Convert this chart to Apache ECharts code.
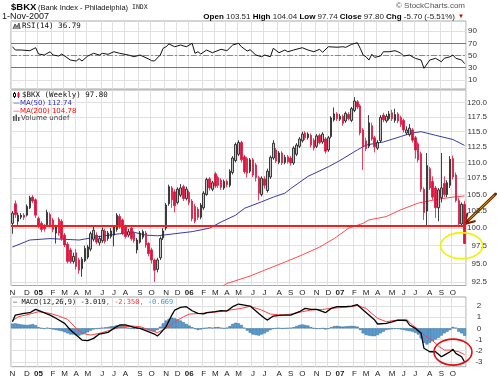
<!DOCTYPE html>
<html><head><meta charset="utf-8">
<script src="https://cdn.jsdelivr.net/npm/echarts@6/dist/echarts.min.js"></script>
<style>html,body{margin:0;padding:0;background:#fff}#c{width:499px;height:378px}</style>
</head><body><div id="c"></div>
<script>
// ---------------- DATA ----------------
const firstWeek = [2004, 10, 1];   // week of 1-Nov-2004 (month 0-based)
const weekCount = 157;
const monthLetters = ['J','F','M','A','M','J','J','A','S','O','N','D'];

// weekly candles [open, close, low, high]
const candles = [
 [100.7,102.2,99.2,102.5],[103.6,102.0,101.5,104.1],[101.0,101.9,100.5,102.3],[101.6,101.9,101.3,102.2],[101.9,101.6,101.2,102.2],
 [101.9,103.2,101.7,103.5],[103.0,104.5,102.8,104.8],[104.6,104.0,103.7,104.9],[104.2,101.9,101.5,104.4],[101.4,100.3,100.0,101.7],
 [100.7,99.8,99.4,101.0],[100.2,99.9,99.5,100.6],[100.5,102.3,100.2,102.7],[102.0,100.4,100.1,102.3],[101.2,99.8,99.4,101.5],
 [99.3,100.2,97.8,100.5],[101.3,99.3,98.9,101.6],[101.0,98.5,98.2,101.3],[99.0,97.6,97.3,99.3],[97.7,95.3,95.0,98.0],
 [96.9,95.3,95.0,97.2],[95.3,96.0,95.0,96.5],[96.5,94.6,94.2,97.0],[95.5,94.1,93.6,95.8],[94.3,95.6,93.2,95.9],
 [95.4,97.1,95.2,97.5],[95.9,97.3,95.6,97.6],[97.0,99.2,96.7,99.5],[98.4,99.7,98.1,100.3],[99.0,98.0,97.7,99.4],
 [97.9,98.5,97.5,98.9],[98.2,99.7,97.9,100.1],[99.6,98.1,97.8,99.9],[98.5,99.3,98.2,99.6],[98.8,99.6,98.5,100.0],
 [99.0,100.2,97.4,100.4],[99.8,101.9,99.5,102.2],[101.7,100.2,99.9,102.1],[101.2,99.3,99.0,101.4],[100.2,98.8,98.5,100.5],
 [99.0,99.5,98.7,99.9],[100.0,98.5,98.2,100.4],[99.3,98.2,97.9,99.6],[96.9,98.3,96.4,98.6],[98.0,99.3,97.8,99.6],
 [98.7,99.5,98.4,99.8],[99.3,97.6,97.2,99.6],[97.8,96.4,96.0,98.0],[96.9,95.5,95.0,97.2],[95.5,94.1,92.5,95.7],
 [94.2,95.5,93.8,95.8],[95.8,98.5,95.5,98.8],[98.6,99.6,98.3,100.0],[100.0,103.4,99.7,103.7],[103.6,106.2,103.3,106.5],
 [106.0,104.2,103.0,106.3],[105.4,103.3,102.3,105.8],[103.8,105.8,103.5,106.1],[104.9,106.0,104.6,106.6],[106.2,104.4,104.0,106.5],
 [104.4,105.8,104.1,106.2],[105.3,103.8,103.4,105.6],[104.0,101.4,101.0,104.3],[103.2,101.0,100.7,103.6],[102.8,101.6,101.2,103.1],
 [101.6,103.4,101.3,103.7],[103.0,105.2,102.7,105.5],[105.0,107.3,104.8,107.6],[107.4,106.0,105.6,107.7],[105.8,106.8,105.5,107.1],
 [108.2,106.3,106.0,108.5],[107.6,106.4,106.0,107.9],[107.2,106.1,105.7,107.5],[106.0,107.0,105.7,107.3],[107.0,106.5,106.1,107.3],
 [106.4,108.6,106.1,108.9],[108.4,110.7,108.1,111.0],[110.3,112.9,110.0,113.2],[111.3,113.2,111.0,113.6],[113.2,110.4,110.0,113.5],
 [110.9,108.5,108.2,111.2],[110.6,108.3,107.6,110.9],[108.6,110.4,108.3,110.7],[110.4,108.0,107.7,110.7],[109.6,107.6,107.0,109.9],
 [107.6,105.2,104.1,107.9],[105.0,107.5,104.7,107.8],[107.4,106.4,105.9,107.8],[105.6,108.6,105.3,109.0],[107.7,110.8,107.4,111.1],
 [110.7,113.1,110.4,113.6],[112.0,110.2,109.9,112.3],[110.0,111.5,109.7,111.8],[111.5,109.9,109.6,111.8],[110.0,110.8,109.7,111.2],
 [110.9,110.1,109.8,111.2],[110.7,109.9,109.5,111.0],[109.9,112.3,109.6,112.6],[111.3,112.8,111.0,113.1],[112.6,113.8,112.3,114.1],
 [113.5,114.6,113.2,115.0],[114.8,114.0,113.6,115.1],[114.0,114.6,113.7,114.9],[114.4,112.8,112.4,114.7],[113.6,112.3,111.9,113.9],
 [112.6,114.3,112.3,114.6],[114.4,113.2,112.9,114.7],[113.3,114.6,113.0,114.9],[113.8,111.8,111.4,114.1],[112.0,114.0,111.7,114.3],
 [114.2,117.3,113.9,117.6],[117.0,118.0,116.7,119.1],[118.0,117.2,116.8,118.3],[117.1,117.6,116.8,118.0],[117.6,116.4,116.0,117.9],
 [116.8,118.1,116.5,118.4],[117.9,117.2,116.9,118.3],[116.9,118.9,116.6,119.2],[118.6,120.2,118.3,120.9],[120.1,119.2,118.8,120.4],
 [119.4,114.8,114.4,119.7],[115.3,112.5,108.8,115.6],[113.5,112.2,111.8,114.0],[112.6,116.5,112.3,117.8],[116.0,113.8,113.5,116.5],
 [114.0,112.5,111.6,114.3],[112.3,113.2,112.0,113.6],[113.5,117.4,113.2,117.8],[117.8,117.0,116.6,118.2],[116.8,117.6,116.5,118.0],
 [117.2,118.0,116.9,118.5],[118.2,117.2,116.8,118.7],[116.9,117.9,116.5,118.9],[118.0,116.8,116.4,118.3],[117.4,116.2,115.8,117.7],
 [116.9,115.3,114.9,117.2],[114.8,115.3,114.5,115.9],[114.5,115.6,114.2,116.3],[115.3,113.6,113.2,115.6],[114.0,112.0,110.6,114.3],
 [113.0,110.4,110.0,113.3],[111.4,105.8,105.4,111.7],[105.8,102.3,101.2,106.1],[102.5,109.5,100.2,111.5],[109.0,106.0,105.7,109.3],
 [107.0,104.6,104.2,107.8],[106.0,103.0,101.5,106.3],[103.0,105.7,101.0,106.0],[104.5,106.0,103.8,111.5],[106.7,105.0,104.6,107.8],
 [105.0,106.8,104.6,107.2],[106.4,110.5,106.0,111.0],[110.6,107.7,107.3,111.1],[108.0,104.1,103.8,108.4],[104.1,100.6,100.2,104.5],
 [100.6,103.5,100.2,103.8],[103.51,97.80,97.74,104.04]
];

const ma50Weeks  = [0,6,13,23,30,37,42,46,50,56,62,68,72,77,80,86,90,94,96,102,109,113,119,122,128,134,138,141,146,152,156];
const ma50Values = [97.3,98.3,98.5,98.3,98.8,99.2,99.4,99.0,98.9,99.2,99.5,100.0,100.9,101.9,102.9,103.9,104.6,105.2,105.9,107.8,109.3,110.3,112.0,112.8,113.3,114.2,114.8,115.0,114.4,113.7,112.74];

const ma200Weeks  = [72,74,82,87,94,100,106,111,116,121,123,129,134,140,147,152,156];
const ma200Values = [91.8,92.3,93.3,94.1,95.2,96.2,97.3,98.5,100.0,100.7,101.2,101.7,102.7,103.7,104.3,104.6,104.78];

const supportLevel = 100.3;

const rsiWeeks  = [0,1,3,6,8,9,11,13,14,16,17,20,22,23,24,26,28,30,31,33,35,37,40,42,44,47,48,49,51,52,53,54,56,58,60,62,63,64,65,67,69,72,74,76,78,79,81,82,84,86,87,89,90,92,94,95,97,100,102,104,106,107,109,112,114,115,117,119,120,121,122,123,124,125,127,128,130,132,133,134,135,137,139,141,142,144,146,148,149,151,152,153,155,156];
const rsiValues = [64.4,59,59,57.9,62.8,52.5,50.8,56.2,50.8,49.2,52.5,42.6,41,44.8,41,49.2,53.6,50.8,53.6,52,56.2,53.6,50.8,48,50.8,44.3,41.5,41,50.8,61.8,64.4,68.9,64.4,67.2,64.4,70,53.6,56.2,52.5,59,54.6,60.2,57.9,67.2,70,64.4,57.4,59.5,50.8,48,50.8,48,61.8,54.6,59,56.2,59,62.8,59,56.2,60.2,55.2,64.4,63.6,64.4,63.4,68.3,71,61.8,50.8,48,42.6,52,47,49.2,56.2,56.2,57.9,56.2,53.6,49.2,50.8,45.4,42.6,29,42.6,45.4,39.8,45.4,48,50.8,45.4,42.6,36.79];

const macdWeeks  = [0,1,4,6,8,10,13,15,18,20,22,24,26,28,30,33,35,37,39,42,44,46,49,50,51,53,55,56,58,60,62,64,66,67,70,72,74,76,78,80,82,85,87,88,90,93,96,99,101,103,105,108,110,112,115,117,119,121,123,125,126,129,131,133,136,137,139,141,142,144,146,148,149,151,152,153,155,156];
const macdValues = [0.59,1.19,1.34,1.40,1.70,1.49,1.19,0.90,0.45,-0.15,-0.60,-1.05,-1.11,-0.90,-0.51,-0.36,0.0,0.30,0.30,0.09,0.0,-0.21,-0.51,-0.69,-0.45,0.15,1.19,1.64,1.88,1.94,1.58,1.34,1.30,1.40,1.49,1.58,1.55,1.94,2.18,2.09,2.0,1.34,0.90,0.74,1.10,1.19,1.19,1.49,1.79,1.70,1.70,1.40,1.79,1.94,1.94,2.00,2.12,1.64,1.19,0.74,0.39,0.45,0.59,0.74,0.69,0.30,0.0,-0.45,-1.79,-2.10,-2.10,-2.55,-2.40,-2.10,-1.88,-2.25,-2.55,-3.019];

const signalWeeks  = [0,2,6,9,13,16,19,22,24,27,30,34,37,41,44,48,50,53,56,59,61,65,68,72,75,79,82,86,89,93,96,100,103,107,110,114,117,119,122,124,126,129,131,133,136,138,140,142,145,147,149,151,154,156];
const signalValues = [0.68,1.04,1.28,1.49,1.34,1.10,0.81,0.0,-0.45,-0.60,-0.45,-0.15,0.09,0.21,0.15,-0.21,-0.39,0.0,0.59,1.04,1.28,1.34,1.40,1.52,1.64,1.79,1.97,1.64,1.28,1.19,1.28,1.49,1.64,1.70,1.79,1.88,1.94,2.06,1.79,1.34,0.90,0.59,0.68,0.74,0.81,0.30,-0.09,-0.60,-1.11,-1.59,-1.95,-1.95,-2.10,-2.35];

const histValues = [
 0.42,0.45,0.40,0.35,0.32,0.30,0.33,0.38,0.28,0.10,
 0.02,-0.05,0.05,-0.02,-0.10,-0.15,-0.20,-0.25,-0.35,-0.45,
 -0.55,-0.55,-0.62,-0.65,-0.55,-0.45,-0.35,-0.20,-0.10,-0.05,
 0.00,0.05,0.08,0.12,0.18,0.20,0.28,0.25,0.18,0.10,
 0.05,0.00,-0.05,-0.05,0.00,-0.03,-0.10,-0.18,-0.25,-0.30,
 -0.15,0.15,0.45,0.70,0.85,0.95,0.90,0.80,0.70,0.55,
 0.40,0.25,0.10,-0.05,-0.15,-0.10,0.00,0.05,0.10,0.05,
 0.10,0.12,0.05,0.00,0.05,0.20,0.40,0.50,0.45,0.30,
 0.05,-0.20,-0.40,-0.55,-0.60,-0.65,-0.55,-0.45,-0.30,-0.15,
 -0.05,0.00,0.02,-0.02,0.00,0.02,0.05,0.10,0.20,0.30,
 0.35,0.30,0.25,0.10,0.00,-0.05,-0.05,0.00,-0.10,-0.05,
 0.10,0.20,0.22,0.18,0.15,0.18,0.20,0.22,0.20,0.15,
 -0.15,-0.45,-0.60,-0.65,-0.70,-0.70,-0.60,-0.45,-0.30,-0.15,
 -0.10,-0.08,-0.05,-0.05,-0.10,-0.15,-0.20,-0.25,-0.30,-0.40,
 -0.55,-0.90,-1.30,-1.45,-1.30,-1.15,-1.00,-0.85,-0.65,-0.45,
 -0.30,-0.15,0.12,0.05,-0.30,-0.45,-0.669
];

const rsiTicks = [10,30,50,70,90];
const priceTicks = [92.5,95,97.5,100,102.5,105,107.5,110,112.5,115,117.5,120];
const macdTicks = [-3,-2,-1,0,1,2];

// annotation anchors (week index, value)
const yellowMark = [154.5, 97.5];
const redMark = [151.8, -2.13];
const arrowTip = [155.6, 100.6];

// ---------------- BUILD ----------------
const categories = [];
for (let k = 0; k < weekCount; k++) {
  const d = new Date(Date.UTC(firstWeek[0], firstWeek[1], firstWeek[2] + 7 * k));
  categories.push(d.toISOString().slice(0, 10));
}
const monthStart = categories.map((c, k) => k === 0 || c.slice(5, 7) !== categories[k - 1].slice(5, 7));
const pairs = (w, v) => w.map((x, k) => [x, v[k]]);

const GRID_L = 11, GRID_R = 33;
const grids = [
  {left: GRID_L, right: GRID_R, top: 21, height: 68},
  {left: GRID_L, right: GRID_R, top: 90, height: 195.5},
  {left: GRID_L, right: GRID_R, top: 297, height: 69.7}
].map(g => Object.assign(g, {show: true, borderColor: '#a8a8a8', borderWidth: 1, backgroundColor: '#fff'}));

function xAxis(gi, showLabels, margin) {
  return {
    type: 'category', gridIndex: gi, data: categories, boundaryGap: true,
    axisLine: {show: false}, axisTick: {show: false},
    axisLabel: {
      show: showLabels, interval: (i) => monthStart[i], margin: margin,
      fontSize: 8, fontFamily: 'Liberation Sans', color: '#222', hideOverlap: false,
      formatter: (v) => {
        const m = +v.slice(5, 7);
        return m === 1 ? '{y|' + v.slice(2, 4) + '}' : monthLetters[m - 1];
      },
      rich: {y: {fontWeight: 'bold', fontSize: 8, fontFamily: 'Liberation Sans', color: '#222'}}
    },
    splitLine: {show: true, interval: (i) => monthStart[i], lineStyle: {color: '#e0e0e0', width: 1}}
  };
}
const lblStyle = {fontSize: 8, fontFamily: 'Liberation Sans', color: '#333'};

const option = {
  animation: false,
  backgroundColor: '#fff',
  grid: grids,
  xAxis: [xAxis(0, false, 2), xAxis(1, true, 3), xAxis(2, true, 3)],
  yAxis: [
    {type: 'value', gridIndex: 0, position: 'right', min: -4.9, max: 106.6,
     axisLine: {show: false}, axisTick: {show: false, customValues: rsiTicks},
     axisLabel: Object.assign({customValues: rsiTicks, margin: 2, align: 'left'}, lblStyle),
     splitLine: {show: true, lineStyle: {color: '#e0e0e0'}}},
    {type: 'log', logBase: 10, gridIndex: 1, position: 'right', min: 92.03, max: 122.16,
     axisLine: {show: false}, axisTick: {show: false, customValues: priceTicks},
     axisLabel: Object.assign({customValues: priceTicks, margin: 21, align: 'right', formatter: v => (+v).toFixed(1)}, lblStyle),
     splitLine: {show: true, lineStyle: {color: '#e0e0e0'}}},
    {type: 'value', gridIndex: 2, position: 'right', min: -3.44, max: 2.81,
     axisLine: {show: false}, axisTick: {show: false, customValues: macdTicks},
     axisLabel: Object.assign({customValues: macdTicks, margin: 13, align: 'center'}, lblStyle),
     splitLine: {show: true, lineStyle: {color: '#e0e0e0'}}}
  ],
  series: [
    {type: 'line', name: 'RSI', xAxisIndex: 0, yAxisIndex: 0, data: pairs(rsiWeeks, rsiValues),
     symbol: 'none', lineStyle: {color: '#111', width: 1}, z: 5,
     markLine: {silent: true, symbol: 'none', label: {show: false}, animation: false,
       data: [
         {yAxis: 70, lineStyle: {color: '#777', width: 1, type: 'solid'}},
         {yAxis: 30, lineStyle: {color: '#777', width: 1, type: 'solid'}},
         {yAxis: 50, lineStyle: {color: '#888', width: 1, type: [6, 2, 2, 2]}}
       ]}},
    {type: 'candlestick', name: '$BKX', xAxisIndex: 1, yAxisIndex: 1, data: candles, barWidth: 2,
     itemStyle: {color: '#c4c4c4', color0: '#dc143c', borderColor: '#111', borderColor0: '#dc143c', borderWidth: 0.8},
     z: 4,
     markLine: {silent: true, symbol: 'none', label: {show: false}, animation: false,
       data: [{yAxis: supportLevel, lineStyle: {color: '#ff1a1a', width: 2, type: 'solid'}}]}},
    {type: 'line', name: 'MA(50)', xAxisIndex: 1, yAxisIndex: 1, data: pairs(ma50Weeks, ma50Values),
     symbol: 'none', lineStyle: {color: '#3a3aa6', width: 1}, z: 3},
    {type: 'line', name: 'MA(200)', xAxisIndex: 1, yAxisIndex: 1, data: pairs(ma200Weeks, ma200Values),
     symbol: 'none', lineStyle: {color: '#ff4d4d', width: 1}, z: 3},
    {type: 'bar', name: 'Hist', xAxisIndex: 2, yAxisIndex: 2, data: histValues, barCategoryGap: '0%',
     itemStyle: {color: '#5a9fd4', borderColor: '#2c6a9e', borderWidth: 0.5}, z: 2},
    {type: 'line', name: 'Signal', xAxisIndex: 2, yAxisIndex: 2, data: pairs(signalWeeks, signalValues),
     symbol: 'none', lineStyle: {color: '#ff4040', width: 1}, z: 4},
    {type: 'line', name: 'MACD', xAxisIndex: 2, yAxisIndex: 2, data: pairs(macdWeeks, macdValues),
     symbol: 'none', lineStyle: {color: '#000', width: 1.3}, z: 5}
  ]
};

const chart = echarts.init(document.getElementById('c'));
chart.setOption(option);

// ---------------- TEXT + ANNOTATIONS ----------------
const sans = '"Liberation Sans", Arial, sans-serif';
const mono = '"DejaVu Sans Mono", monospace';
const dv = '"DejaVu Sans", sans-serif';
function txt(x, y, text, font, fill, align, rich) {
  const st = {text: text, font: font, fill: fill || '#000', align: align || 'left', verticalAlign: 'middle'};
  if (rich) st.rich = rich;
  return {type: 'text', x: x, y: y, silent: true, z: 100, style: st};
}
const px = (gi, pt) => chart.convertToPixel({xAxisIndex: gi, yAxisIndex: gi}, pt);

const yC = px(1, yellowMark);
const rC = px(2, redMark);
const aT = px(1, arrowTip);

const g = [
  txt(11, 7, '$BKX', 'bold 9.5px ' + sans, '#000'),
  txt(38, 7.5, '(Bank Index - Philadelphia)', '7.5px ' + sans, '#111'),
  txt(132, 7.5, 'INDX', '6.5px ' + mono, '#222'),
  txt(2, 16.5, '1-Nov-2007', '9px ' + sans, '#111'),
  txt(465, 6, '\u00a9 StockCharts.com', '8px ' + sans, '#555', 'right'),
  txt(455, 16.5, '{b|Open} {n|103.51} {b|High} {n|104.04} {b|Low} {n|97.74} {b|Close} {n|97.80} {b|Chg} {n|-5.70 (-5.51%)}',
      '8px ' + sans, '#000', 'right',
      {b: {font: 'bold 8px ' + sans, fill: '#000'}, n: {font: '8px ' + sans, fill: '#222'}}),
  txt(458, 16.5, '\u25bc', '6px ' + sans, '#cc0000'),
  // RSI legend
  {type: 'polyline', silent: true, z: 100, shape: {points: [[13, 29], [15, 24], [17, 27], [19, 23], [20, 29]]}, style: {stroke: '#555', fill: '#999', lineWidth: 1}},
  txt(22, 26, 'RSI(14) 36.79', '7.5px ' + mono, '#111'),
  // price legend
  {type: 'group', silent: true, z: 100, children: [
    {type: 'line', shape: {x1: 14.5, y1: 92, x2: 14.5, y2: 98}, style: {stroke: '#000', lineWidth: 1}},
    {type: 'rect', shape: {x: 13.5, y: 93.5, width: 2, height: 3}, style: {fill: '#fff', stroke: '#000', lineWidth: 1}},
    {type: 'line', shape: {x1: 18.5, y1: 92, x2: 18.5, y2: 98}, style: {stroke: '#dc143c', lineWidth: 1}},
    {type: 'rect', shape: {x: 17.5, y: 93, width: 2, height: 4}, style: {fill: '#dc143c'}}
  ]},
  txt(22, 95, '$BKX (Weekly) 97.80', '7.5px ' + mono, '#111'),
  txt(13, 103.3, '\u2014MA(50) 112.74', '7px ' + dv, '#2b2bc4'),
  txt(13, 110.7, '\u2014MA(200) 104.78', '7px ' + dv, '#ff0000'),
  {type: 'group', silent: true, z: 100, children: [
    {type: 'rect', shape: {x: 13, y: 116, width: 1.5, height: 5}, style: {fill: '#555'}},
    {type: 'rect', shape: {x: 15.5, y: 114.5, width: 1.5, height: 6.5}, style: {fill: '#555'}},
    {type: 'rect', shape: {x: 18, y: 117, width: 1.5, height: 4}, style: {fill: '#555'}}
  ]},
  txt(21, 117.7, 'Volume undef', '7px ' + dv, '#444'),
  // MACD legend
  txt(13, 302, '{k|\u2014 MACD(12,26,9) -3.019}{r|, -2.350}{b|, -0.669}', '7px ' + mono, '#000', 'left',
      {k: {font: '7px ' + mono, fill: '#111'}, r: {font: '7px ' + mono, fill: '#ff3333'}, b: {font: '7px ' + mono, fill: '#3aa0e0'}}),
  // annotations
  {type: 'ellipse', silent: true, z: 110, shape: {cx: yC[0], cy: yC[1], rx: 21, ry: 13}, style: {fill: 'none', stroke: '#f2f200', lineWidth: 1.6}},
  {type: 'ellipse', silent: true, z: 110, shape: {cx: rC[0], cy: rC[1], rx: 19, ry: 13}, style: {fill: 'none', stroke: '#e01010', lineWidth: 1.6}},
  {type: 'group', silent: true, z: 120, children: [
    {type: 'line', shape: {x1: aT[0] + 31, y1: aT[1] - 30, x2: aT[0] + 1, y2: aT[1] - 1}, style: {stroke: '#7a1f00', lineWidth: 3, lineCap: 'round'}},
    {type: 'line', shape: {x1: aT[0] + 30, y1: aT[1] - 29, x2: aT[0] + 4, y2: aT[1] - 4}, style: {stroke: '#e0b000', lineWidth: 1}},
    {type: 'polyline', shape: {points: [[aT[0] + 3, aT[1] - 11], [aT[0], aT[1]], [aT[0] + 11, aT[1] - 3]]}, style: {stroke: '#7a1f00', lineWidth: 2, fill: 'none'}}
  ]}
];
chart.setOption({graphic: g});
</script>
</body></html>
